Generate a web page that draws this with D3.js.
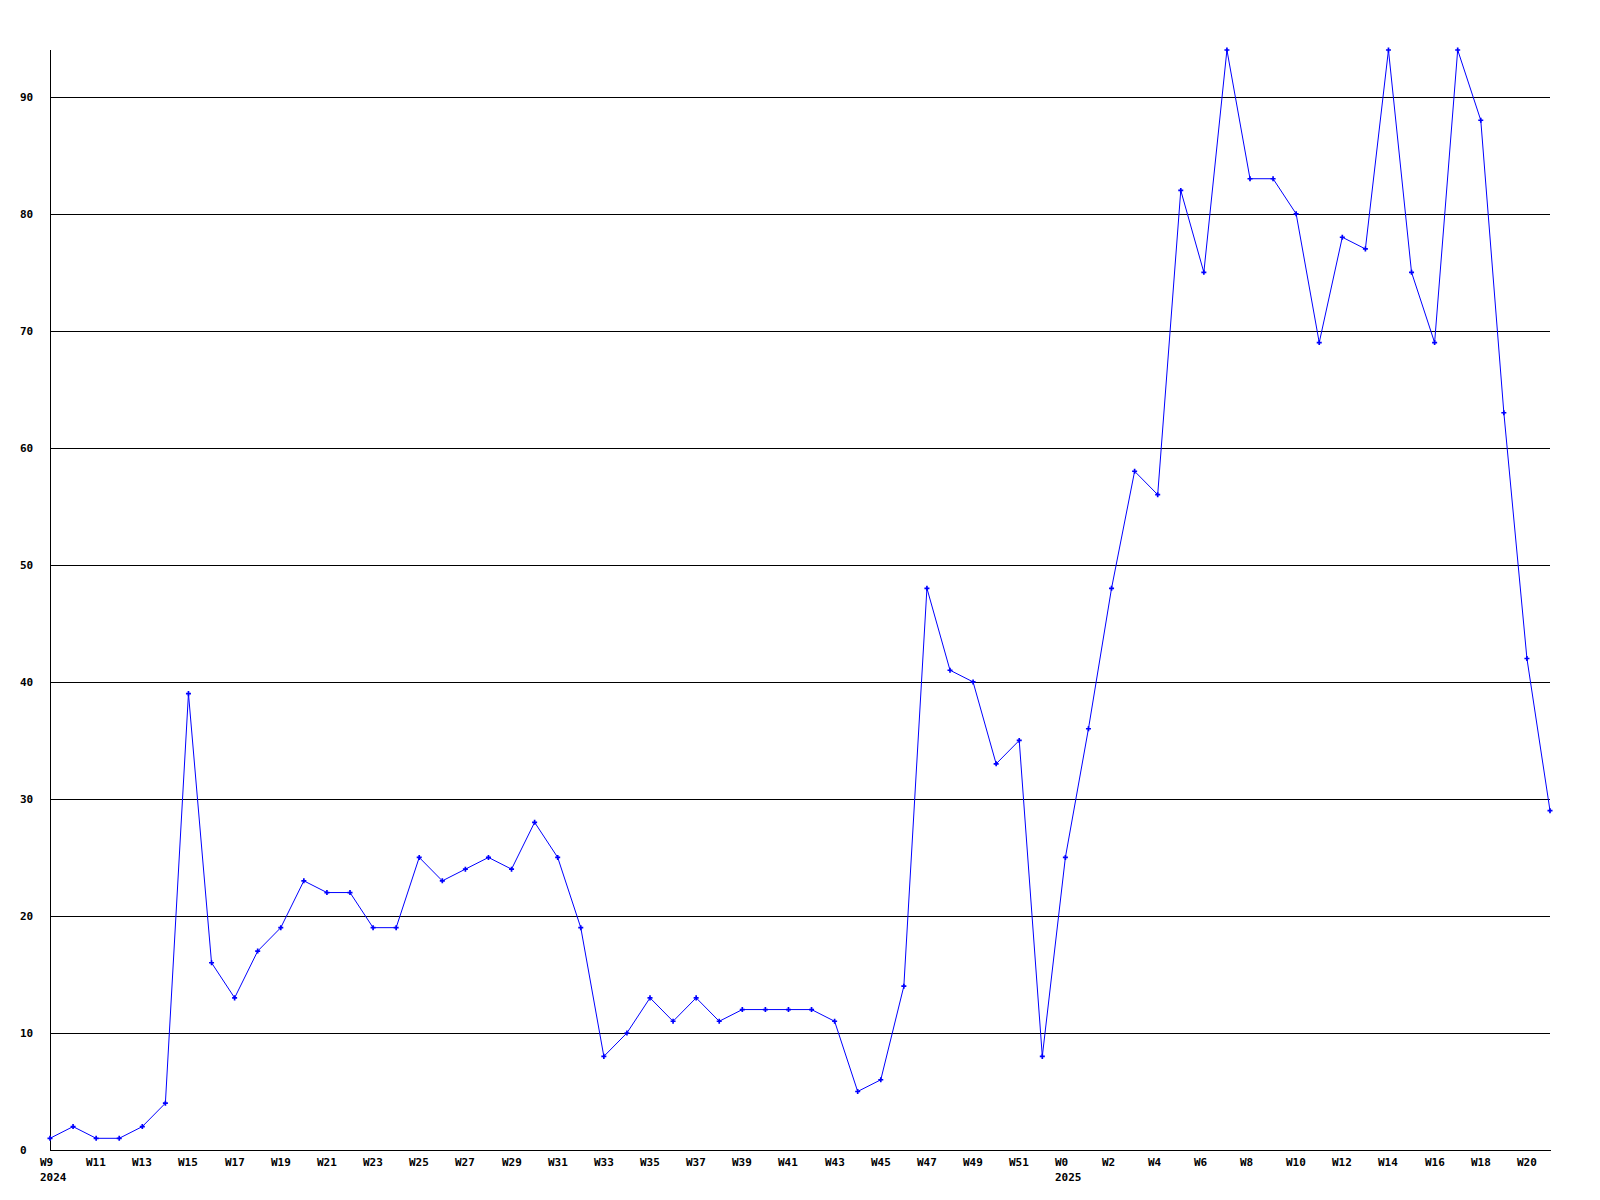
<!DOCTYPE html>
<html>
<head>
<meta charset="utf-8">
<script src="https://cdn.jsdelivr.net/npm/d3@7"></script>
<style>
  html, body { margin: 0; padding: 0; background: #fff; }
  svg { display: block; }
  text { font-family: "DejaVu Sans Mono", "Liberation Mono", monospace; font-weight: bold; font-size: 11px; fill: #000; }
</style>
</head>
<body>
<script>
// Weeks (2024 W9 .. W52, 2025 W0 .. W21)
const weeks = [
  "W9","W10","W11","W12","W13","W14","W15","W16","W17","W18","W19","W20","W21","W22","W23","W24",
  "W25","W26","W27","W28","W29","W30","W31","W32","W33","W34","W35","W36","W37","W38","W39","W40",
  "W41","W42","W43","W44","W45","W46","W47","W48","W49","W50","W51","W52",
  "W0","W1","W2","W3","W4","W5","W6","W7","W8","W9","W10","W11","W12","W13","W14","W15","W16","W17",
  "W18","W19","W20","W21"
];
const years = [
  {index: 0, label: "2024"},
  {index: 44, label: "2025"}
];
const values = [
  1,2,1,1,2,4,39,16,13,17,19,23,22,22,19,19,
  25,23,24,25,24,28,25,19,8,10,13,11,13,11,12,12,
  12,12,11,5,6,14,48,41,40,33,35,8,
  25,36,48,58,56,82,75,94,83,83,80,69,78,77,94,75,69,94,
  88,63,42,29
];
const yTicks = [0,10,20,30,40,50,60,70,80,90];

(function () {
const W = 1600, H = 1200;
const mLeft = 50, mRight = 1550, mTop = 50, mBottom = 1150;

const svg = d3.select("body").append("svg").attr("width", W).attr("height", H);

const x = d3.scaleLinear().domain([0, weeks.length - 1]).range([mLeft, mRight]);
const y = d3.scaleLinear().domain([0, d3.max(values)]).range([mBottom, mTop]);

// gridlines
svg.append("g").selectAll("line").data(yTicks.filter(d => d > 0)).join("line")
  .attr("x1", mLeft).attr("x2", mRight)
  .attr("y1", d => Math.round(y(d)) + 0.5).attr("y2", d => Math.round(y(d)) + 0.5)
  .attr("stroke", "#000").attr("stroke-width", 1).attr("shape-rendering", "crispEdges");

// y tick labels
svg.append("g").selectAll("text").data(yTicks).join("text")
  .attr("x", 20).attr("y", d => Math.round(y(d)) + 4)
  .text(d => d);

// axes lines
svg.append("line").attr("x1", mLeft + 0.5).attr("x2", mLeft + 0.5).attr("y1", mTop).attr("y2", mBottom + 1)
  .attr("stroke", "#000").attr("shape-rendering", "crispEdges");
svg.append("line").attr("x1", mLeft).attr("x2", mRight + 1).attr("y1", mBottom + 0.5).attr("y2", mBottom + 0.5)
  .attr("stroke", "#000").attr("shape-rendering", "crispEdges");

// x labels every 2 weeks
svg.append("g").selectAll("text").data(weeks.map((w, i) => ({w, i})).filter(d => d.i % 2 === 0)).join("text")
  .attr("x", d => Math.round(x(d.i)) - 10).attr("y", 1166)
  .text(d => d.w);

svg.append("g").selectAll("text").data(years).join("text")
  .attr("x", d => Math.round(x(d.index)) - 10).attr("y", 1181)
  .text(d => d.label);

// line
const line = d3.line().x((d, i) => x(i)).y(d => y(d));
svg.append("path").datum(values)
  .attr("d", line).attr("fill", "none").attr("stroke", "#0000ff").attr("stroke-width", 1);

// markers
const sym = d3.symbol().type(d3.symbolCross).size(14);
svg.append("g").selectAll("path").data(values).join("path")
  .attr("transform", (d, i) => `translate(${x(i)},${y(d)})`)
  .attr("d", sym).attr("fill", "#0000ff");
})();
</script>
</body>
</html>
